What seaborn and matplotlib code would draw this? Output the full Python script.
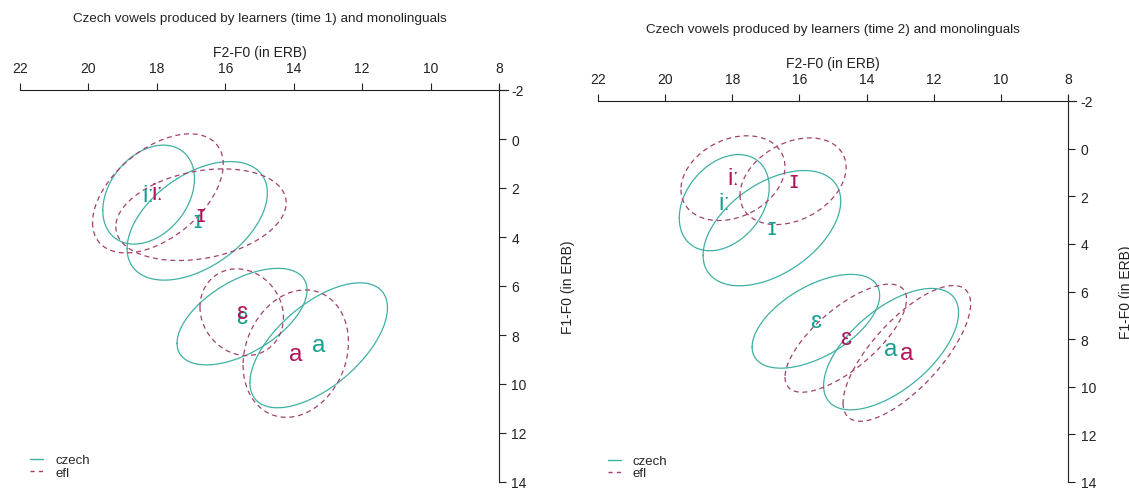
import numpy as np
import pandas as pd
import matplotlib
matplotlib.use("Agg")
import matplotlib.pyplot as plt
import seaborn as sns
from matplotlib.lines import Line2D

# ---------------- data (ERB units) ----------------
vowels = ["iː", "ɪ", "ɛ", "a"]
groups = ["czech", "efl"]

# Czech monolinguals (same in both panels): means, ellipse radii, correlation
czech_f2 = [18.24, 16.82, 15.51, 13.27]
czech_f1 = [2.27, 3.34, 7.25, 8.42]
czech_f2_rad = [1.34, 2.05, 1.90, 2.01]
czech_f1_rad = [2.02, 2.42, 1.97, 2.55]
czech_r = [0.32, 0.47, 0.55, 0.60]

# EFL learners, time 1
efl1_f2 = [17.97, 16.71, 15.52, 13.94]
efl1_f1 = [2.22, 3.09, 7.07, 8.76]
efl1_f2_rad = [1.91, 2.49, 1.22, 1.54]
efl1_f1_rad = [2.43, 1.87, 1.77, 2.60]
efl1_r = [0.49, 0.26, -0.12, 0.18]

# EFL learners, time 2
efl2_f2 = [17.98, 16.19, 14.62, 12.80]
efl2_f1 = [1.24, 1.37, 7.96, 8.60]
efl2_f2_rad = [1.55, 1.58, 1.81, 1.90]
efl2_f1_rad = [1.78, 1.82, 2.27, 2.85]
efl2_r = [0.27, 0.32, 0.72, 0.73]

titles = ["Czech vowels produced by learners (time 1) and monolinguals",
          "Czech vowels produced by learners (time 2) and monolinguals"]
x_ticks = [22, 20, 18, 16, 14, 12, 10, 8]
y_ticks = [-2, 0, 2, 4, 6, 8, 10, 12, 14]
x_label = "F2-F0 (in ERB)"
y_label = "F1-F0 (in ERB)"

# ---------------- style ----------------
sns.set_style("white")
plt.rcParams["font.family"] = ["Liberation Sans", "DejaVu Sans"]
plt.rcParams["axes.unicode_minus"] = False

line_col = {"czech": "#3fb0a4", "efl": "#a3406f"}
text_col = {"czech": "#17a08e", "efl": "#b0145c"}
axis_col = "#222222"


def ellipse_frame(group, f2, f1, f2r, f1r, rr):
    t = np.linspace(0, 2 * np.pi, 240)
    rows = []
    for v, cx, cy, a, b, r in zip(vowels, f2, f1, f2r, f1r, rr):
        x = cx + a * np.cos(t)
        y = cy + b * (r * np.cos(t) + np.sqrt(1 - r * r) * np.sin(t))
        rows.append(pd.DataFrame({"F2": x, "F1": y, "group": group,
                                  "vowel": v, "order": np.arange(len(t))}))
    return pd.concat(rows, ignore_index=True)


panels = [
    dict(efl=(efl1_f2, efl1_f1, efl1_f2_rad, efl1_f1_rad, efl1_r),
         pos=[20 / 1129, 6 / 489, 479 / 1129, 392 / 489],
         ylab_x=(568 - 20) / 479),
    dict(efl=(efl2_f2, efl2_f1, efl2_f2_rad, efl2_f1_rad, efl2_r),
         pos=[598 / 1129, 6 / 489, 470 / 1129, 381 / 489],
         ylab_x=(1126 - 598) / 470),
]

fig = plt.figure(figsize=(11.29, 4.89), dpi=100)

for i, p in enumerate(panels):
    ax = fig.add_axes(p["pos"])
    df = pd.concat([
        ellipse_frame("czech", czech_f2, czech_f1, czech_f2_rad, czech_f1_rad, czech_r),
        ellipse_frame("efl", *p["efl"]),
    ], ignore_index=True)
    sns.lineplot(data=df, x="F2", y="F1", hue="group", style="group",
                 units="vowel", estimator=None, sort=False,
                 palette=line_col, dashes={"czech": "", "efl": (4, 3)},
                 linewidth=0.9, legend=False, ax=ax)

    # vowel labels at the means
    for grp, f2, f1 in [("czech", czech_f2, czech_f1), ("efl", p["efl"][0], p["efl"][1])]:
        for v, x, y in zip(vowels, f2, f1):
            ax.text(x, y, v, color=text_col[grp], fontsize=17.5,
                    ha="center", va="center")

    ax.set_xlim(22, 8)
    ax.set_ylim(14, -2)
    ax.set_xticks(x_ticks)
    ax.set_yticks(y_ticks)
    ax.set_xticklabels([str(t) for t in x_ticks])
    ax.set_yticklabels([str(t) for t in y_ticks])

    for s in ["left", "bottom"]:
        ax.spines[s].set_visible(False)
    for s in ["top", "right"]:
        ax.spines[s].set_visible(True)
        ax.spines[s].set_color(axis_col)
        ax.spines[s].set_linewidth(0.8)
    ax.spines["top"].set_bounds(22, 7.75)
    ax.spines["right"].set_bounds(14, -2.2)

    ax.xaxis.tick_top()
    ax.yaxis.tick_right()
    ax.tick_params(axis="x", top=True, bottom=False, labeltop=True, labelbottom=False,
                   direction="out", length=5, width=0.8, pad=6, labelsize=10,
                   colors=axis_col)
    ax.tick_params(axis="y", right=True, left=False, labelright=True, labelleft=False,
                   direction="out", length=5, width=0.8, pad=4, labelsize=10,
                   colors=axis_col)

    h = p["pos"][3] * 489
    ax.set_xlabel(x_label, fontsize=10, color=axis_col)
    ax.xaxis.set_label_position("top")
    ax.xaxis.set_label_coords(0.5, 1 + 38 / h)
    ax.xaxis.label.set_va("center")

    ax.set_ylabel(y_label, fontsize=10, color=axis_col, rotation=90)
    ax.yaxis.set_label_position("right")
    ax.yaxis.set_label_coords(p["ylab_x"], 0.5)
    ax.yaxis.label.set_va("center")
    ax.yaxis.label.set_ha("center")

    ax.set_title(titles[i], fontsize=9.7, color=axis_col, y=1 + 72 / h, va="center", pad=0)

    handles = [Line2D([], [], color=line_col["czech"], lw=1.0),
               Line2D([], [], color=line_col["efl"], lw=1.0, dashes=(3, 3))]
    ax.legend(handles, groups, loc="upper left", bbox_to_anchor=(0.021, 0.071),
              frameon=False, fontsize=9.5, handlelength=1.0, handletextpad=0.9,
              labelspacing=0.0, borderpad=0, borderaxespad=0)
    ax.grid(False)

fig.savefig("out.png", dpi=100)
